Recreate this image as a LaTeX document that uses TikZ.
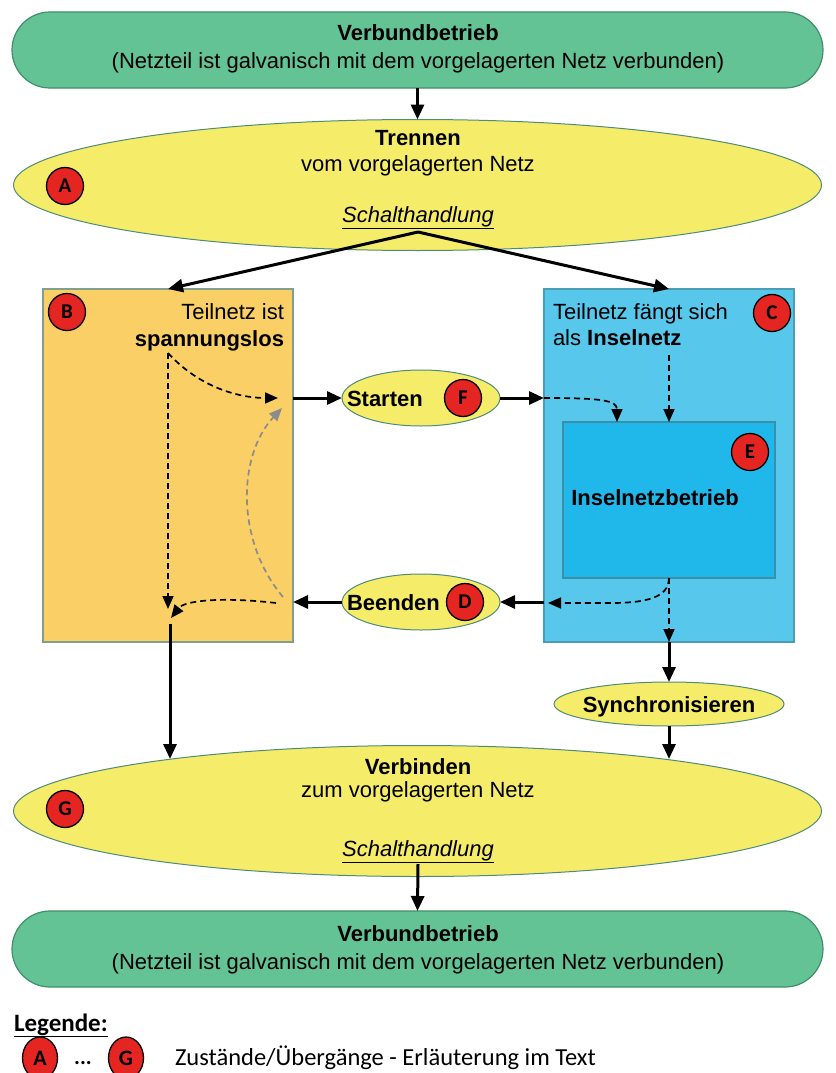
\documentclass[tikz,border=0pt]{standalone}
\usepackage{fontspec}
\setmainfont{Liberation Sans}
\newfontfamily\legendfont{Carlito}
\usetikzlibrary{shapes.geometric,arrows.meta,calc}

\definecolor{verbundgreen}{HTML}{64C395}
\definecolor{greenedge}{HTML}{3F8F6C}
\definecolor{actionyellow}{HTML}{F5EC6A}
\definecolor{yellowedge}{HTML}{4E8C78}
\definecolor{deadorange}{HTML}{FAD066}
\definecolor{orangeedge}{HTML}{7FA08C}
\definecolor{islandblue}{HTML}{58C7EC}
\definecolor{islandedge}{HTML}{4A9DB3}
\definecolor{runblue}{HTML}{20B8EA}
\definecolor{runedge}{HTML}{3B8FA6}
\definecolor{markerred}{HTML}{E52521}

\begin{document}
\begin{tikzpicture}[x=1pt,y=-1pt,
  font=\fontsize{22}{25}\selectfont,
  every node/.style={inner sep=0pt, outer sep=0pt},
  greenbox/.style={draw=greenedge, line width=1.2pt, fill=verbundgreen,
    rounded corners=38pt, minimum width=811pt, minimum height=76pt},
  bigell/.style={ellipse, draw=yellowedge, line width=1pt, fill=actionyellow,
    minimum width=808pt, minimum height=131pt},
  smallell/.style={ellipse, draw=yellowedge, line width=1pt, fill=actionyellow},
  statebox/.style={draw, line width=1.2pt, minimum width=250pt, minimum height=353pt},
  marker/.style={circle, draw=black, line width=1.3pt, fill=markerred,
    minimum size=37pt, font=\legendfont\fontsize{21}{21}\selectfont\bfseries},
  legmarker/.style={ellipse, draw=black, line width=1.3pt, fill=markerred,
    minimum width=35pt, minimum height=42pt, font=\legendfont\fontsize{22}{22}\selectfont\bfseries},
  flow/.style={line width=3pt, -{Triangle[length=15pt,width=13pt]}},
  hint/.style={line width=1.7pt, dash pattern=on 6pt off 4pt,
    -{Triangle[length=13pt,width=11pt]}},
  fainthint/.style={hint, draw=black!45, -{Triangle[length=13pt,width=11pt,fill=black!45]}},
]
\useasboundingbox (0,0) rectangle (835,1073);

% --- grid-connected operation (top) ---
\node[greenbox] (top) at (417.5,50) {};
\node[anchor=base] (topT1) at (418,41) {\bfseries Verbundbetrieb};
\node[anchor=base] (topT2) at (418,68) {(Netzteil ist galvanisch mit dem vorgelagerten Netz verbunden)};

% --- disconnect ---
\node[bigell] (ellA) at (417.5,185) {};
\node[anchor=base] (aT1) at (418,145) {\bfseries Trennen};
\node[anchor=base] (aT2) at (418,171) {vom vorgelagerten Netz};
\node[anchor=base] (aT3) at (418,222) {\underline{\itshape Schalthandlung}};
\node[marker] (mA) at (65,186) {A};
\coordinate (aSplit) at (418,232);

% --- dead sub-grid (B) ---
\node[statebox, draw=orangeedge, fill=deadorange] (boxB) at (168,465.5) {};
\node[anchor=base east] (bT1) at (284,319) {Teilnetz ist};
\node[anchor=base east] (bT2) at (284,346) {\bfseries spannungslos};
\node[marker] (mB) at (67,312) {B};

% --- island sub-grid (C) ---
\node[statebox, draw=islandedge, fill=islandblue] (boxC) at (669,465.5) {};
\node[anchor=base west] (cT1) at (553,319) {Teilnetz fängt sich};
\node[anchor=base west] (cT2) at (553,345) {als \textbf{Inselnetz}};
\node[marker] (mC) at (772,313) {C};

% --- island operation (E) ---
\node[draw=runedge, line width=1.2pt, fill=runblue, minimum width=212pt, minimum height=156pt] (boxE) at (669,500) {};
\node[anchor=base] (eT) at (655,505) {\bfseries Inselnetzbetrieb};
\node[marker] (mE) at (750,452) {E};

% --- start / stop ---
\node[smallell, minimum width=158pt, minimum height=56pt] (start) at (421,398) {};
\node[anchor=base west] (startT) at (347,406) {\bfseries Starten};
\node[marker] (mF) at (463,398) {F};

\node[smallell, minimum width=158pt, minimum height=56pt] (stop) at (421,602) {};
\node[anchor=base west] (stopT) at (347,610) {\bfseries Beenden};
\node[marker] (mD) at (465,602) {D};

% --- synchronise ---
\node[smallell, minimum width=230pt, minimum height=44pt] (sync) at (669,704) {};
\node[anchor=base] (syncT) at (669,712) {\bfseries Synchronisieren};

% --- reconnect ---
\node[bigell] (ellG) at (417.5,811) {};
\node[anchor=base] (gT1) at (418,774) {\bfseries Verbinden};
\node[anchor=base] (gT2) at (418,797) {zum vorgelagerten Netz};
\node[anchor=base] (gT3) at (418,856) {\underline{\itshape Schalthandlung}};
\node[marker] (mG) at (65,809) {G};
\coordinate (gSplit) at (418,864);

% --- grid-connected operation (bottom) ---
\node[greenbox] (bot) at (417.5,949) {};
\node[anchor=base] (botT1) at (418,941) {\bfseries Verbundbetrieb};
\node[anchor=base] (botT2) at (418,969) {(Netzteil ist galvanisch mit dem vorgelagerten Netz verbunden)};

% --- helper points for the connectors ---
\coordinate (bSrc) at (168,353);
\coordinate (bStartIn) at (278,398);
\coordinate (bDown) at (168,609);
\coordinate (bGrayFrom) at (283,597);
\coordinate (bGrayTo) at (282,408);
\coordinate (bStopOut) at (276,603);
\coordinate (bJoin) at (171,618);
\coordinate (bOut) at (170,624);
\coordinate (gInL) at (170,759);
\coordinate (gInR) at (669,759);
\coordinate (cSrc) at (669,355);
\coordinate (eEntry) at (617,422);
\coordinate (cLeftIn) at (548,603);

% --- connectors ---
\draw[flow] (top.south) -- (ellA.north);
\draw[flow] (aSplit) -- (boxB.north);
\draw[flow] (aSplit) -- (boxC.north);

\draw[flow] (start.west -| boxB.east) -- (start.west);
\draw[flow] (start.east) -- (start.east -| boxC.west);
\draw[flow] (stop.east -| boxC.west) -- (stop.east);
\draw[flow] (stop.west) -- (stop.west -| boxB.east);

% paths inside the dead sub-grid
\draw[hint] (bSrc) .. controls (200,388) and (240,398) .. (bStartIn);
\draw[hint] (bSrc) -- (bDown);
\draw[fainthint] (bGrayFrom) .. controls (235,540) and (238,455) .. (bGrayTo);
\draw[hint] (bStopOut) .. controls (225,597) and (185,600) .. (bJoin);
\draw[flow] (bOut) -- (gInL);

% paths inside the island sub-grid
\draw[hint] (start.east -| boxC.west) .. controls (600,398) and (617,400) .. (eEntry);
\draw[hint] (cSrc) -- (boxE.north);
\draw[hint] (boxE.south) -- (boxC.south);
\draw[hint] (boxE.south) .. controls (669,598) and (645,603) .. (610,603) -- (cLeftIn);
\draw[flow] (boxC.south) -- (sync.north);
\draw[flow] (sync.south) -- (gInR);

\draw[flow] (gSplit) -- (bot.north);

% --- legend ---
\node[anchor=base west, font=\legendfont\fontsize{25}{27}\selectfont\bfseries] (legT) at (14,1031) {\underline{Legende:}};
\node[legmarker] (lgA) at (40,1058) {A};
\node[anchor=base, font=\legendfont\fontsize{22}{22}\selectfont\bfseries] (lgDots) at (83,1064) {...};
\node[legmarker] (lgG) at (126,1058) {G};
\node[anchor=base west, font=\legendfont\fontsize{24.5}{27}\selectfont] (legText) at (175,1065) {Zustände/Übergänge - Erläuterung im Text};
\end{tikzpicture}
\end{document}
